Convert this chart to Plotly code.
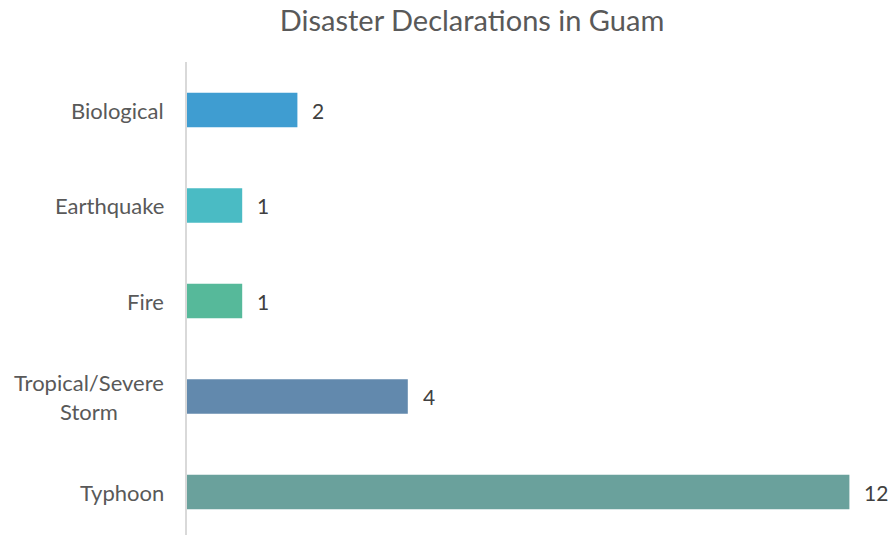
import plotly.graph_objects as go

categories = ["Biological", "Earthquake", "Fire", "Tropical/Severe<br>Storm", "Typhoon"]
values = [2, 1, 1, 4, 12]
colors = ["#3F9DD1", "#4ABBC4", "#56B99A", "#6289AD", "#6AA19C"]

# plot bottom-to-top so Biological is on top
cats_r = categories[::-1]
vals_r = values[::-1]
cols_r = colors[::-1]
ypos = list(range(len(cats_r)))

FONT = "Lato"

fig = go.Figure(go.Bar(
    y=ypos, x=vals_r, orientation="h",
    marker=dict(color=cols_r, line=dict(width=0)),
    width=0.36, hoverinfo="skip",
))

annotations = []
for y, v, c in zip(ypos, vals_r, cats_r):
    annotations.append(dict(
        x=v, y=y, xref="x", yref="y", text=str(v), showarrow=False,
        xanchor="left", yanchor="middle", xshift=13,
        font=dict(family=FONT, size=21, color="#404040"),
    ))
    annotations.append(dict(
        x=0, y=y, xref="paper", yref="y", text=c, showarrow=False,
        xanchor="right", yanchor="middle", align="center", xshift=-21,
        font=dict(family=FONT, size=22, color="#595959"),
    ))

fig.update_layout(
    width=891, height=535,
    margin=dict(l=187, r=4, t=62, b=0),
    paper_bgcolor="white", plot_bgcolor="white",
    title=dict(text="Disaster Declarations in Guam", x=472 / 891, xanchor="center",
               y=1 - 21 / 535, yanchor="middle", yref="container",
               font=dict(family=FONT, size=29, color="#595959")),
    xaxis=dict(range=[0, 700 / 55.2], showgrid=False, zeroline=False,
               showticklabels=False, ticks="", showline=False),
    yaxis=dict(range=[-0.45, 4.503], showgrid=False, zeroline=False,
               showticklabels=False, ticks="", showline=True,
               linecolor="#D9D9D9", linewidth=1.5),
    annotations=annotations,
    showlegend=False,
)

fig.write_html("out.html")
